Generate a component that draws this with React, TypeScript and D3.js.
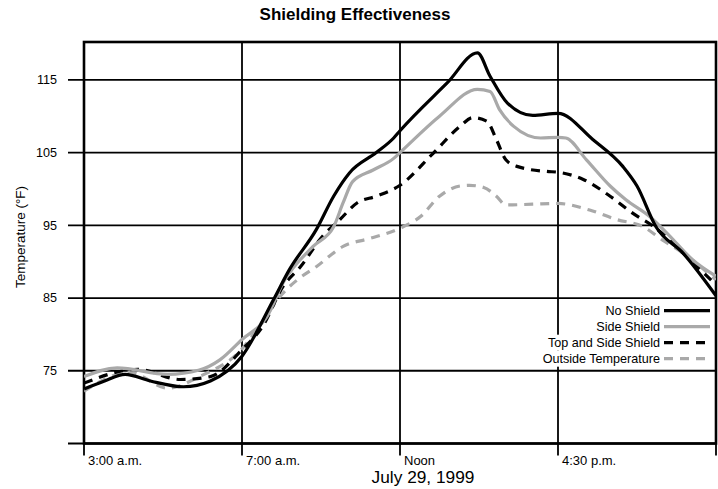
import React, { useEffect, useRef } from "react";
import * as d3 from "d3";

// x positions are expressed in grid-section units along the time axis (0 = 3:00 a.m., 1 = 7:00 a.m., 2 = Noon, 3 = 4:30 p.m., 4 = right edge)
const xTickPositions = [0, 1, 2, 3, 4];
const xTickLabels = ["3:00 a.m.", "7:00 a.m.", "Noon", "4:30 p.m.", ""];
const yTicks = [65, 75, 85, 95, 105, 115];
const yTickLabels = ["", "75", "85", "95", "105", "115"];

const seriesNames = ["No Shield", "Side Shield", "Top and Side Shield", "Outside Temperature"];

const noShield: [number, number][] = [
  [0.0, 72.5], [0.13, 73.6], [0.26, 74.5], [0.42, 73.6], [0.63, 72.8], [0.8, 73.6],
  [1.0, 77.0], [1.2, 84.8], [1.3, 88.9], [1.47, 94.4], [1.58, 99.0], [1.68, 102.2],
  [1.85, 105.0], [1.96, 107.0], [2.0, 108.0], [2.3, 114.6], [2.49, 118.7], [2.57, 115.5],
  [2.68, 111.8], [2.84, 110.1], [3.0, 110.4], [3.22, 106.8], [3.41, 103.1], [3.5, 100.4],
  [3.62, 94.8], [3.79, 91.2], [4.0, 85.3],
];

const sideShield: [number, number][] = [
  [0.0, 74.2], [0.21, 75.4], [0.53, 74.5], [0.73, 75.1], [0.86, 76.5], [1.0, 79.3],
  [1.16, 82.5], [1.26, 87.1], [1.45, 92.1], [1.58, 94.8], [1.64, 98.1], [1.7, 101.0],
  [1.83, 102.6], [1.96, 104.2], [2.0, 105.0], [2.25, 110.0], [2.49, 113.7], [2.57, 113.4],
  [2.63, 110.9], [2.72, 108.6], [2.89, 107.0], [3.0, 107.1], [3.05, 107.0], [3.18, 104.0],
  [3.33, 100.4], [3.43, 98.5], [3.58, 96.2], [3.73, 93.0], [3.85, 90.3], [4.0, 88.0],
];

const topSideShield: [number, number][] = [
  [0.0, 73.3], [0.34, 75.2], [0.61, 73.8], [0.8, 74.2], [1.0, 77.9], [1.13, 81.1],
  [1.26, 86.6], [1.37, 89.3], [1.51, 93.5], [1.62, 95.8], [1.73, 98.1], [1.85, 99.0],
  [2.0, 100.5], [2.21, 104.9], [2.38, 108.6], [2.46, 109.8], [2.55, 109.3], [2.61, 106.8],
  [2.67, 104.0], [2.74, 103.1], [2.93, 102.4], [3.0, 102.3], [3.16, 101.3], [3.33, 99.0],
  [3.47, 96.7], [3.62, 94.6], [3.79, 91.2], [4.0, 86.8],
];

const outsideTemp: [number, number][] = [
  [0.0, 72.2], [0.29, 74.8], [0.53, 72.6], [0.73, 74.2], [1.0, 78.0], [1.13, 81.8],
  [1.24, 85.2], [1.35, 87.5], [1.47, 89.3], [1.64, 92.1], [1.81, 93.2], [2.0, 94.6],
  [2.13, 96.2], [2.25, 99.0], [2.38, 100.4], [2.44, 100.5], [2.53, 100.2], [2.61, 99.0],
  [2.67, 97.8], [2.84, 97.9], [3.0, 98.0], [3.2, 97.1], [3.37, 95.8], [3.54, 94.8],
  [3.66, 93.0], [3.79, 91.2], [4.0, 87.5],
];

const seriesData = [noShield, sideShield, topSideShield, outsideTemp];
const seriesColors = ["#000000", "#a9a9a9", "#000000", "#a9a9a9"];
const seriesDashes = ["none", "none", "9,7", "9,7"];

const W = 718;
const H = 489;
const FONT = "'Liberation Sans', Arial, Helvetica, sans-serif";

export default function App() {
  const ref = useRef<SVGSVGElement | null>(null);

  useEffect(() => {
    const svg = d3.select(ref.current);
    svg.selectAll("*").remove();

    const x = d3.scaleLinear().domain([0, 4]).range([84, 716]);
    const y = d3.scaleLinear().domain([65, 120.2]).range([443.5, 42]);
    const [x0, x1] = x.range();
    const [yb, yt] = y.range();

    // title
    svg.append("text")
      .attr("x", 355).attr("y", 20)
      .attr("text-anchor", "middle")
      .attr("font-family", FONT).attr("font-weight", "bold").attr("font-size", 17)
      .text("Shielding Effectiveness");

    // horizontal grid lines (extend left as ticks)
    svg.append("g").selectAll("line").data(yTicks).join("line")
      .attr("x1", x0 - 16).attr("x2", x1)
      .attr("y1", (d) => y(d)).attr("y2", (d) => y(d))
      .attr("stroke", "#000").attr("stroke-width", 1.8);

    // vertical grid lines (extend below as ticks)
    svg.append("g").selectAll("line").data(xTickPositions).join("line")
      .attr("x1", (d) => x(d)).attr("x2", (d) => x(d))
      .attr("y1", yt).attr("y2", yb + 12)
      .attr("stroke", "#000").attr("stroke-width", 1.8);

    // frame
    svg.append("rect")
      .attr("x", x0).attr("y", yt).attr("width", x1 - x0).attr("height", yb - yt)
      .attr("fill", "none").attr("stroke", "#000").attr("stroke-width", 2.6);

    // y tick labels
    svg.append("g").selectAll("text").data(yTicks).join("text")
      .attr("x", 57).attr("y", (d) => y(d)).attr("dy", "0.35em")
      .attr("text-anchor", "end")
      .attr("font-family", FONT).attr("font-size", 12.6)
      .text((d, i) => yTickLabels[i]);

    // x tick labels
    svg.append("g").selectAll("text").data(xTickPositions).join("text")
      .attr("x", (d) => x(d) + 4).attr("y", 465)
      .attr("font-family", FONT).attr("font-size", 13)
      .text((d, i) => xTickLabels[i]);

    // axis titles
    svg.append("text")
      .attr("x", 423).attr("y", 483)
      .attr("text-anchor", "middle")
      .attr("font-family", FONT).attr("font-size", 17.3)
      .text("July 29, 1999");

    svg.append("text")
      .attr("transform", "translate(25,237) rotate(-90)")
      .attr("text-anchor", "middle")
      .attr("font-family", FONT).attr("font-size", 13.5)
      .text("Temperature (°F)");

    // series lines
    const line = d3.line<[number, number]>()
      .x((d) => x(d[0])).y((d) => y(d[1]))
      .curve(d3.curveMonotoneX);

    const clipId = "plot-clip";
    svg.append("clipPath").attr("id", clipId)
      .append("rect").attr("x", x0).attr("y", yt).attr("width", x1 - x0).attr("height", yb - yt);

    const order = [3, 2, 1, 0];
    order.forEach((i) => {
      svg.append("path")
        .attr("d", line(seriesData[i]) || "")
        .attr("fill", "none")
        .attr("stroke", seriesColors[i])
        .attr("stroke-width", 3.2)
        .attr("stroke-dasharray", seriesDashes[i])
        .attr("stroke-linejoin", "round")
        .attr("clip-path", `url(#${clipId})`);
    });

    // legend
    const legend = svg.append("g");
    seriesNames.forEach((name, i) => {
      const cy = 310.7 + i * 16;
      const g = legend.append("g");
      const bg = g.append("rect").attr("fill", "#fff");
      const t = g.append("text")
        .attr("x", 660).attr("y", cy).attr("dy", "0.35em")
        .attr("text-anchor", "end")
        .attr("font-family", FONT).attr("font-size", 12.6)
        .text(name);
      const bb = (t.node() as SVGTextElement).getBBox();
      bg.attr("x", bb.x - 2).attr("y", cy - 8).attr("width", 712 - bb.x + 2).attr("height", 16);
      g.append("line")
        .attr("x1", 664).attr("x2", 710).attr("y1", cy).attr("y2", cy)
        .attr("stroke", seriesColors[i]).attr("stroke-width", 3.2)
        .attr("stroke-dasharray", seriesDashes[i]);
    });
  }, []);

  return (
    <svg
      ref={ref}
      width={W}
      height={H}
      style={{ position: "absolute", left: 0, top: 0, background: "#fff" }}
    />
  );
}
